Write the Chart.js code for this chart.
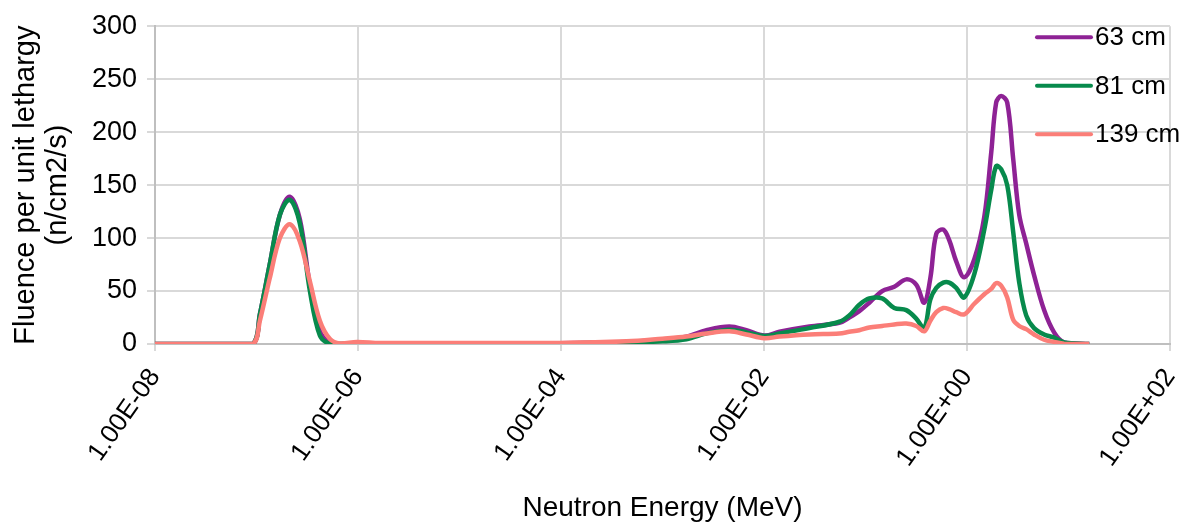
<!DOCTYPE html>
<html lang="en">
<head>
    <meta charset="UTF-8">
    <title>Neutron fluence spectrum</title>
    <script src="https://cdn.jsdelivr.net/npm/chart.js"></script>
    <style>
        html, body { margin: 0; padding: 0; background: #fff; }
        #wrap { width: 1200px; height: 529px; }
    </style>
</head>
<body>
    <div id="wrap">
        <canvas id="fluenceChart" width="1200" height="529"></canvas>
    </div>

    <script>
        // energies (MeV)
        const energyMeV = [
            1.00e-8, 2.21e-8, 4.88e-8, 9.23e-8, 1.08e-7, 1.35e-7, 1.70e-7, 2.13e-7, 2.67e-7, 3.36e-7,
            4.21e-7, 5.27e-7, 6.62e-7, 9.73e-7, 1.64e-6, 1.0e-5, 9.7e-5, 4.43e-4, 1.0e-3, 1.72e-3,
            2.71e-3, 4.56e-3, 6.71e-3, 1.01e-2, 1.42e-2, 2.80e-2, 5.52e-2, 6.92e-2, 8.69e-2, 0.109,
            0.146, 0.192, 0.252, 0.316, 0.379, 0.435, 0.498, 0.583, 0.668, 0.783,
            0.938, 1.18, 1.48, 1.73, 1.94, 2.17, 2.49, 2.85, 3.27, 3.83,
            4.58, 5.75, 7.21, 9.06, 16.0
        ];

        // fluence per unit lethargy (n/cm2/s)
        const fluence63 = [
            0, 0, 0, 0, 28, 75, 122, 139, 118, 55,
            12, 1, 0, 0.5, 0.5, 0.5, 0.8, 2, 4, 7,
            13, 16.5, 13, 8, 11.5, 16.5, 20, 25, 31, 39,
            50, 54, 61, 56, 39, 62, 104, 108, 98, 78,
            63, 80, 120, 180, 228, 234, 228, 175, 122, 95,
            65, 32, 11, 1.5, 0
        ];
        const fluence81 = [
            0, 0, 0, 0, 28, 75, 122, 136, 114, 50,
            8, 0, 0, 0.3, 0.3, 0.3, 0.5, 1.5, 2.5, 4.5,
            10, 13.5, 11, 7.5, 10, 15, 21, 27, 37, 43,
            43, 34, 32, 24, 15, 42, 53, 58, 58, 53,
            44, 66, 108, 145, 168, 165, 150, 106, 58, 27,
            15, 9, 6, 1.5, 0
        ];
        const fluence139 = [
            0, 0, 0, 0, 22, 62, 100, 113, 97, 59,
            22, 5, 0.5, 2, 1, 1, 1, 2.5, 5, 7,
            10, 12, 9, 5.5, 7, 9, 10, 11.5, 13, 15.5,
            17, 18.5, 19.3, 17, 12, 22, 30, 34, 33, 30,
            28, 38, 47, 52, 57.5, 55, 44, 23, 17, 14,
            9, 4, 2, 0.3, 0
        ];

        const seriesNames = ['63 cm', '81 cm', '139 cm'];
        const seriesColors = ['#8e2295', '#078a4c', '#fb7e78'];

        const xTickValues = [1e-8, 1e-6, 1e-4, 1e-2, 1, 100];
        const xTickLabels = ['1.00E-08', '1.00E-06', '1.00E-04', '1.00E-02', '1.00E+00', '1.00E+02'];

        const fontFamily = '"Liberation Sans", Arial, sans-serif';

        function toPoints(values) {
            return energyMeV.map((e, i) => ({ x: e, y: values[i] }));
        }

        // legend sits inside the plot, top right, no box
        const insideLegend = {
            id: 'insideLegend',
            afterDraw(chart) {
                const ctx = chart.ctx;
                const area = chart.chartArea;
                ctx.save();
                ctx.font = '26px ' + fontFamily;
                ctx.textBaseline = 'middle';
                ctx.textAlign = 'left';
                chart.data.datasets.forEach((ds, i) => {
                    const y = area.top + 11 + i * 48.5;
                    const x0 = area.right - 133;
                    ctx.strokeStyle = ds.borderColor;
                    ctx.lineWidth = 4;
                    ctx.lineCap = 'round';
                    ctx.beginPath();
                    ctx.moveTo(x0, y);
                    ctx.lineTo(x0 + 54, y);
                    ctx.stroke();
                    ctx.fillStyle = '#000';
                    ctx.fillText(ds.label, x0 + 58, y + 1);
                });
                ctx.restore();
            }
        };

        const ctx = document.getElementById('fluenceChart').getContext('2d');
        const fluenceChart = new Chart(ctx, {
            type: 'line',
            data: {
                datasets: [fluence63, fluence81, fluence139].map((vals, i) => ({
                    label: seriesNames[i],
                    data: toPoints(vals),
                    borderColor: seriesColors[i],
                    backgroundColor: seriesColors[i],
                    borderWidth: 4.5,
                    pointRadius: 0,
                    tension: 0.35,
                    fill: false,
                    order: 3 - i   // pink on top, purple at the back
                }))
            },
            options: {
                responsive: false,
                animation: false,
                devicePixelRatio: 1,
                layout: { padding: { top: 22, right: 30, left: 0, bottom: 0 } },
                plugins: {
                    legend: { display: false },
                    tooltip: { enabled: false }
                },
                scales: {
                    x: {
                        type: 'logarithmic',
                        min: 1e-8,
                        max: 100,
                        afterBuildTicks: scale => {
                            scale.ticks = xTickValues.map(v => ({ value: v }));
                        },
                        afterFit: scale => {
                            scale.height = 185;
                            scale.paddingLeft = 0;
                            scale.paddingRight = 0;
                        },
                        ticks: {
                            autoSkip: false,
                            maxRotation: 55,
                            minRotation: 55,
                            padding: 12,
                            color: '#000',
                            font: { family: fontFamily, size: 26 },
                            callback: (value, index) => xTickLabels[index]
                        },
                        grid: { color: '#d9d9d9', lineWidth: 2, tickLength: 7 },
                        border: { color: '#bfbfbf', width: 2 },
                        title: {
                            display: true,
                            text: 'Neutron Energy (MeV)',
                            color: '#000',
                            font: { family: fontFamily, size: 28 },
                            padding: { top: 0, bottom: 4 }
                        }
                    },
                    y: {
                        min: 0,
                        max: 300,
                        afterFit: scale => { scale.width = 155; },
                        ticks: {
                            stepSize: 50,
                            padding: 10,
                            color: '#000',
                            font: { family: fontFamily, size: 27 }
                        },
                        grid: { color: '#d9d9d9', lineWidth: 2, tickLength: 8 },
                        border: { color: '#bfbfbf', width: 2 },
                        title: {
                            display: true,
                            text: ['Fluence per unit lethargy', '(n/cm2/s)'],
                            color: '#000',
                            font: { family: fontFamily, size: 29, lineHeight: 1.1 },
                            padding: { top: 10, bottom: 0 }
                        }
                    }
                }
            },
            plugins: [insideLegend]
        });
    </script>
</body>
</html>
